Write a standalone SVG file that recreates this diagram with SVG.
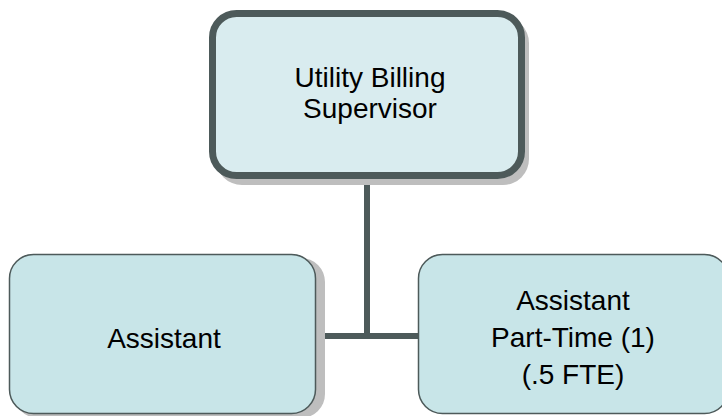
<svg xmlns="http://www.w3.org/2000/svg" width="722" height="416" viewBox="0 0 722 416">
  <style>
    .shadow { fill: #BEBEBE; }
    .box { fill: #C8E5E8; stroke: #4D5A5A; stroke-width: 1.5; }
    .boss { fill: #D9ECEF; stroke: #4D5A5A; stroke-width: 7; }
    .label { font-family: "Liberation Sans", Arial, sans-serif; font-size: 28px; fill: #000; text-anchor: middle; }
    .conn { stroke: #4D5A5A; stroke-width: 6; fill: none; }
  </style>
  <rect width="722" height="416" fill="#FFFFFF"/>
  <g id="connectors">
    <line class="conn" x1="367" y1="175" x2="367" y2="339"/>
    <line class="conn" x1="316" y1="336" x2="419" y2="336"/>
  </g>
  <g id="node-supervisor">
    <rect class="shadow" x="216" y="17" width="313" height="168" rx="26"/>
    <rect class="boss" x="212.5" y="13.5" width="309" height="162" rx="24"/>
    <text class="label" x="370" y="87">Utility Billing</text>
    <text class="label" x="370" y="118">Supervisor</text>
  </g>
  <g id="node-assistant">
    <rect class="shadow" x="14" y="258" width="311" height="160" rx="24"/>
    <rect class="box" x="9.5" y="254.5" width="306" height="159" rx="24"/>
    <text class="label" x="164" y="348">Assistant</text>
  </g>
  <g id="node-assistant-pt">
    <rect class="box" x="418.5" y="254.5" width="310" height="159" rx="24"/>
    <text class="label" x="573" y="310">Assistant</text>
    <text class="label" x="573" y="347">Part-Time (1)</text>
    <text class="label" x="573" y="384">(.5 FTE)</text>
  </g>
</svg>
